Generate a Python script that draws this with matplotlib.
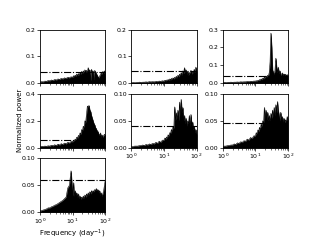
import matplotlib
matplotlib.use("Agg")
import matplotlib.pyplot as plt
from matplotlib.ticker import FormatStrFormatter

# shared frequency grid (day^-1)
freq = [1.00, 1.12, 1.26, 1.41, 1.58, 1.78, 2.00, 2.24, 2.51, 2.82,
        3.16, 3.55, 3.98, 4.47, 5.01, 5.62, 6.31, 7.08, 7.94, 8.91,
        10.0, 10.6, 11.2, 11.9, 12.6, 13.3, 14.1, 15.0, 15.8, 16.8,
        17.8, 18.8, 20.0, 21.1, 22.4, 23.7, 25.1, 26.6, 28.2, 29.9,
        31.6, 33.5, 35.5, 37.6, 39.8, 42.2, 44.7, 47.3, 50.1, 53.1,
        56.2, 59.6, 63.1, 66.8, 70.8, 75.0, 79.4, 84.1, 89.1, 94.4, 100.0]

power1 = [0.004, 0.006, 0.005, 0.008, 0.007, 0.010, 0.009, 0.012, 0.010, 0.014,
          0.012, 0.016, 0.014, 0.018, 0.016, 0.020, 0.018, 0.022, 0.020, 0.024,
          0.022, 0.028, 0.024, 0.030, 0.026, 0.034, 0.028, 0.036, 0.030, 0.040,
          0.034, 0.044, 0.036, 0.046, 0.040, 0.050, 0.042, 0.048, 0.040, 0.058,
          0.044, 0.050, 0.010, 0.052, 0.040, 0.046, 0.012, 0.048, 0.040, 0.036,
          0.030, 0.024, 0.020, 0.026, 0.032, 0.038, 0.034, 0.044, 0.038, 0.046, 0.042]

power2 = [0.002, 0.003, 0.002, 0.003, 0.003, 0.004, 0.003, 0.004, 0.004, 0.005,
          0.004, 0.006, 0.005, 0.006, 0.005, 0.007, 0.006, 0.008, 0.007, 0.009,
          0.008, 0.011, 0.009, 0.012, 0.010, 0.014, 0.011, 0.016, 0.012, 0.018,
          0.014, 0.020, 0.016, 0.022, 0.018, 0.026, 0.020, 0.030, 0.024, 0.034,
          0.028, 0.040, 0.030, 0.046, 0.036, 0.058, 0.040, 0.050, 0.034, 0.044,
          0.030, 0.040, 0.036, 0.048, 0.034, 0.044, 0.038, 0.052, 0.040, 0.060, 0.044]

power3 = [0.004, 0.005, 0.004, 0.005, 0.005, 0.006, 0.005, 0.006, 0.006, 0.007,
          0.006, 0.008, 0.007, 0.008, 0.008, 0.010, 0.009, 0.011, 0.010, 0.012,
          0.012, 0.014, 0.013, 0.016, 0.015, 0.020, 0.018, 0.024, 0.020, 0.028,
          0.024, 0.034, 0.030, 0.040, 0.036, 0.044, 0.040, 0.060, 0.120, 0.280,
          0.200, 0.075, 0.060, 0.050, 0.070, 0.140, 0.090, 0.060, 0.090, 0.055,
          0.070, 0.045, 0.050, 0.058, 0.044, 0.052, 0.046, 0.050, 0.040, 0.048, 0.044]

power4 = [0.008, 0.010, 0.009, 0.012, 0.010, 0.014, 0.012, 0.018, 0.014, 0.022,
          0.016, 0.026, 0.020, 0.030, 0.024, 0.034, 0.028, 0.040, 0.034, 0.046,
          0.044, 0.056, 0.050, 0.064, 0.060, 0.078, 0.070, 0.092, 0.085, 0.110,
          0.100, 0.135, 0.125, 0.160, 0.150, 0.200, 0.190, 0.250, 0.310, 0.300,
          0.315, 0.280, 0.270, 0.240, 0.220, 0.200, 0.180, 0.170, 0.150, 0.140,
          0.125, 0.120, 0.100, 0.090, 0.110, 0.080, 0.095, 0.075, 0.090, 0.100, 0.095]

power5 = [0.002, 0.002, 0.003, 0.003, 0.003, 0.004, 0.004, 0.005, 0.004, 0.006,
          0.005, 0.007, 0.006, 0.008, 0.007, 0.010, 0.008, 0.012, 0.010, 0.014,
          0.014, 0.018, 0.016, 0.020, 0.018, 0.024, 0.022, 0.028, 0.026, 0.034,
          0.030, 0.040, 0.036, 0.076, 0.050, 0.065, 0.055, 0.070, 0.050, 0.085,
          0.060, 0.090, 0.065, 0.075, 0.050, 0.060, 0.045, 0.055, 0.040, 0.050,
          0.045, 0.060, 0.040, 0.062, 0.040, 0.048, 0.034, 0.040, 0.028, 0.034, 0.024]

power6 = [0.002, 0.003, 0.003, 0.004, 0.004, 0.005, 0.005, 0.007, 0.006, 0.009,
          0.008, 0.011, 0.010, 0.013, 0.012, 0.016, 0.014, 0.019, 0.017, 0.022,
          0.022, 0.028, 0.026, 0.033, 0.030, 0.038, 0.034, 0.044, 0.040, 0.050,
          0.045, 0.075, 0.055, 0.070, 0.052, 0.066, 0.050, 0.060, 0.050, 0.064,
          0.055, 0.070, 0.058, 0.075, 0.060, 0.080, 0.065, 0.086, 0.070, 0.060,
          0.050, 0.066, 0.052, 0.058, 0.048, 0.055, 0.046, 0.052, 0.048, 0.058, 0.050]

power7 = [0.002, 0.003, 0.004, 0.005, 0.006, 0.008, 0.008, 0.010, 0.011, 0.013,
          0.014, 0.016, 0.018, 0.020, 0.022, 0.025, 0.028, 0.045, 0.050, 0.077,
          0.030, 0.055, 0.030, 0.040, 0.032, 0.036, 0.028, 0.034, 0.026, 0.030,
          0.024, 0.028, 0.025, 0.030, 0.026, 0.032, 0.028, 0.034, 0.030, 0.036,
          0.032, 0.038, 0.034, 0.040, 0.036, 0.040, 0.038, 0.042, 0.040, 0.044,
          0.040, 0.042, 0.036, 0.040, 0.032, 0.036, 0.030, 0.034, 0.040, 0.050, 0.060]

powers = [power1, power2, power3, power4, power5, power6, power7]
sig_levels = [0.042, 0.046, 0.042, 0.060, 0.040, 0.0465, 0.059]
ylims = [0.2, 0.2, 0.3, 0.4, 0.1, 0.1, 0.1]
yticks = [[0.0, 0.1, 0.2], [0.0, 0.1, 0.2], [0.0, 0.1, 0.2, 0.3],
          [0.0, 0.2, 0.4], [0.0, 0.05, 0.10], [0.0, 0.05, 0.10], [0.0, 0.05, 0.10]]
yfmts = ["%.1f", "%.1f", "%.1f", "%.1f", "%.2f", "%.2f", "%.2f"]

fig, axes = plt.subplots(3, 3, figsize=(3.2, 2.4), dpi=100, sharex=True)
fig.subplots_adjust(left=0.125, right=0.9, top=0.877, bottom=0.116, wspace=0.4, hspace=0.2)
flat = axes.flatten()
flat[7].axis('off')
flat[8].axis('off')

for i in range(7):
    ax = flat[i]
    p = powers[i]
    ax.fill_between(freq, 0, p, color='k', lw=0.3)
    ax.plot(freq, p, color='k', lw=0.4)
    ax.axhline(sig_levels[i], color='k', ls='-.', lw=0.8)
    ax.set_xscale('log')
    ax.set_xlim(1, 100)
    ax.set_ylim(0, ylims[i])
    ax.set_yticks(yticks[i])
    ax.yaxis.set_major_formatter(FormatStrFormatter(yfmts[i]))
    ax.tick_params(which='major', labelsize=4.5, length=2, width=0.5, pad=1.2)
    ax.tick_params(which='minor', length=1.2, width=0.4)
    for s in ax.spines.values():
        s.set_linewidth(0.6)
    if i in (4, 5, 6):
        ax.xaxis.set_tick_params(which='both', labelbottom=True)

flat[6].set_xlabel("Frequency (day$^{-1}$)", fontsize=5, labelpad=1)
fig.text(0.062, 0.5, "Normalized power", rotation=90, ha='center', va='center', fontsize=5)

fig.savefig("out.png", dpi=100)
